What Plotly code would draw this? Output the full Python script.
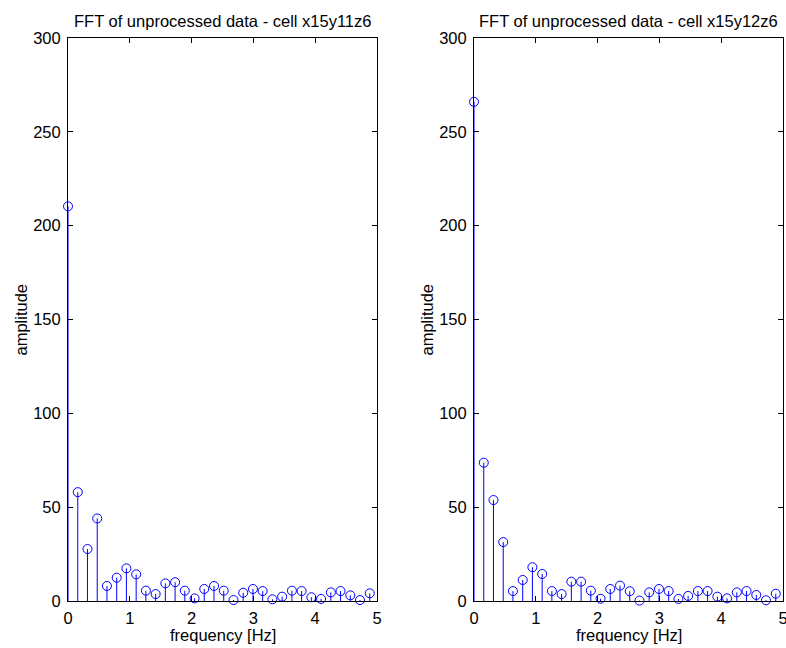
import plotly.graph_objects as go

# FFT bin frequencies [Hz]
freq = [0.000, 0.158, 0.315, 0.473, 0.630, 0.788, 0.945, 1.103, 1.260, 1.418,
        1.575, 1.733, 1.890, 2.048, 2.205, 2.363, 2.520, 2.678, 2.835, 2.993,
        3.150, 3.308, 3.465, 3.623, 3.780, 3.938, 4.095, 4.253, 4.410, 4.568,
        4.725, 4.883]

# amplitude spectrum, cell x15y11z6
amp_y11 = [210.3, 58.0, 27.7, 44.0, 8.0, 12.4, 17.4, 14.2, 5.5, 3.7,
           9.4, 10.0, 5.5, 1.4, 6.4, 8.0, 5.5, 0.5, 4.4, 6.4,
           5.3, 0.9, 2.3, 5.5, 5.3, 2.0, 1.1, 4.6, 5.3, 3.0,
           0.5, 4.1]

# amplitude spectrum, cell x15y12z6
amp_y12 = [266.0, 73.7, 53.8, 31.4, 5.3, 11.2, 18.0, 14.4, 5.3, 3.7,
           10.3, 10.3, 5.5, 1.2, 6.4, 8.2, 5.2, 0.2, 4.6, 6.4,
           5.3, 1.1, 2.7, 5.3, 5.3, 2.3, 1.4, 4.6, 5.3, 3.2,
           0.4, 3.9]

titles = ["FFT of unprocessed data - cell x15y11z6",
          "FFT of unprocessed data - cell x15y12z6"]
x_ticks = [0, 1, 2, 3, 4, 5]
y_ticks = [0, 50, 100, 150, 200, 250, 300]

FONT = "Liberation Sans, Arial, sans-serif"
FS = 16.5
W, H = 786, 648
BLUE = "#0000ff"

# axes boxes in pixels: (left, right)
boxes = [(68, 377), (474, 783)]
top_px, bottom_px = 38, 601


def px_x(p):
    return p / W


def px_y(p):
    return (H - p) / H


fig = go.Figure()

for i, (amps, (l, r)) in enumerate(zip([amp_y11, amp_y12], boxes)):
    xa = "x" if i == 0 else "x2"
    ya = "y" if i == 0 else "y2"
    sx, sy = [], []
    for f, a in zip(freq, amps):
        sx += [f, f, None]
        sy += [0, a, None]
    fig.add_trace(go.Scatter(x=sx, y=sy, mode="lines",
                             line=dict(color=BLUE, width=1),
                             xaxis=xa, yaxis=ya, showlegend=False,
                             hoverinfo="skip"))
    fig.add_trace(go.Scatter(x=freq, y=amps, mode="markers",
                             marker=dict(symbol="circle-open", size=9,
                                         color=BLUE, line=dict(width=1)),
                             cliponaxis=False,
                             xaxis=xa, yaxis=ya, showlegend=False))

axis_common = dict(showline=True, linecolor="black", linewidth=1,
                   mirror="ticks", ticks="inside", ticklen=5,
                   tickcolor="black", tickwidth=1, showgrid=False,
                   zeroline=False, automargin=False, layer="above traces",
                   ticklabeloverflow="allow",
                   tickfont=dict(family=FONT, size=FS, color="black"))

layout = dict(width=W, height=H,
              margin=dict(l=0, r=0, t=0, b=0),
              paper_bgcolor="white", plot_bgcolor="white",
              font=dict(family=FONT, size=FS, color="black"),
              showlegend=False)

annotations = []
for i, (l, r) in enumerate(boxes):
    sfx = "" if i == 0 else "2"
    layout["xaxis" + sfx] = dict(axis_common, domain=[px_x(l), px_x(r)],
                                 range=[0, 5], tickvals=x_ticks,
                                 anchor="y" + sfx, ticklabelstandoff=2)
    layout["yaxis" + sfx] = dict(axis_common,
                                 domain=[px_y(bottom_px), px_y(top_px)],
                                 range=[0, 300], tickvals=y_ticks,
                                 anchor="x" + sfx, ticklabelstandoff=3)
    cx = px_x((l + r) / 2)
    annotations.append(dict(text=titles[i], x=cx, y=px_y(21),
                            xref="paper", yref="paper", showarrow=False,
                            xanchor="center", yanchor="middle",
                            font=dict(family=FONT, size=FS)))
    annotations.append(dict(text="frequency [Hz]", x=cx, y=px_y(635),
                            xref="paper", yref="paper", showarrow=False,
                            xanchor="center", yanchor="middle",
                            font=dict(family=FONT, size=FS)))
    annotations.append(dict(text="amplitude", x=px_x(l - 48),
                            y=px_y((top_px + bottom_px) / 2),
                            xref="paper", yref="paper", showarrow=False,
                            xanchor="center", yanchor="middle", textangle=-90,
                            font=dict(family=FONT, size=FS)))

layout["annotations"] = annotations
fig.update_layout(**layout)

fig.write_html("out.html")
